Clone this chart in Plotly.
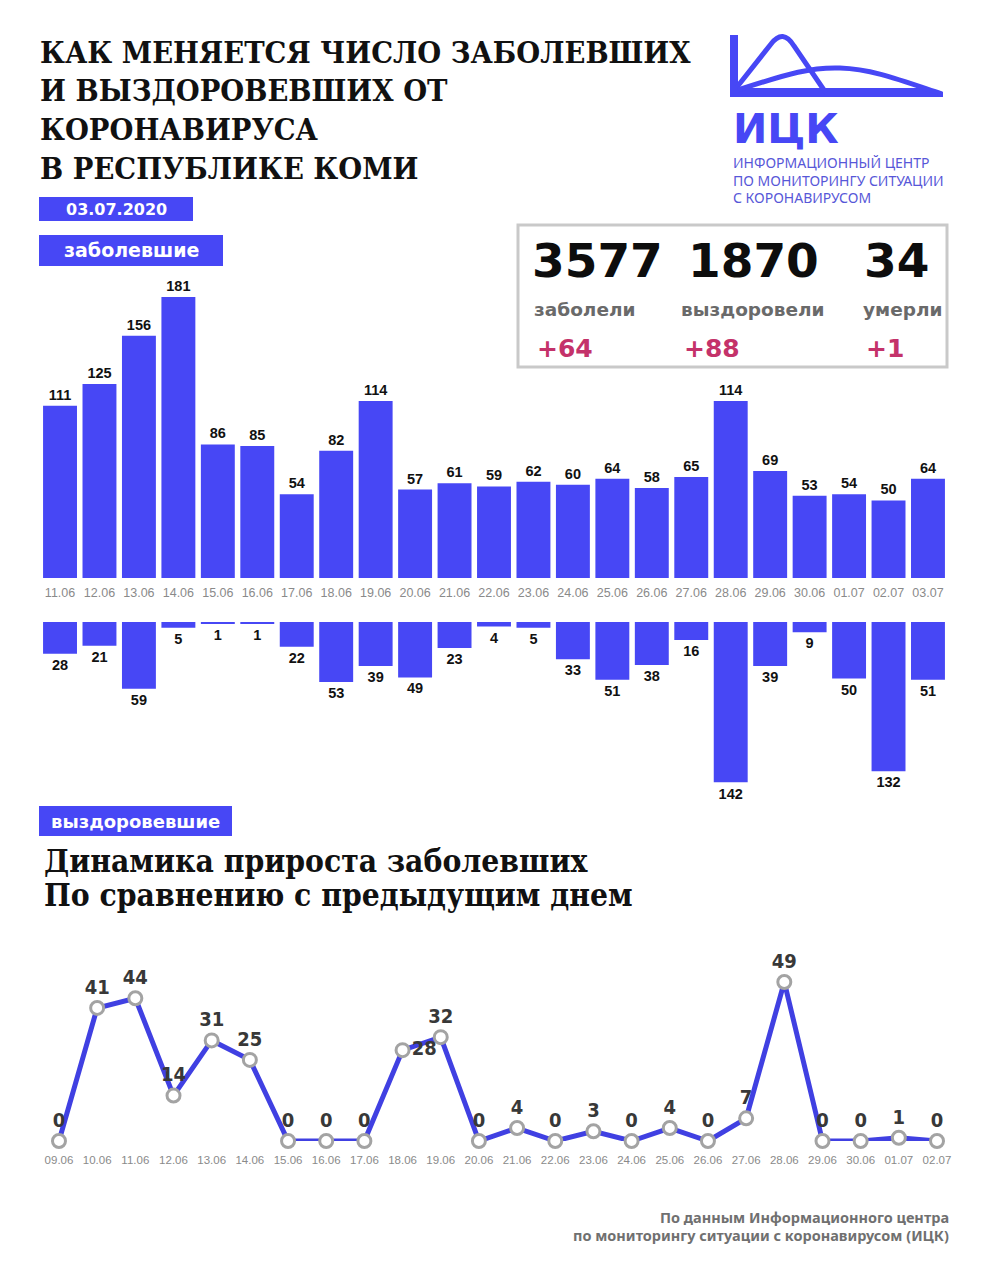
import plotly.graph_objects as go

W, H = 992, 1280


def px(x):
    return x / W


def py(y):
    return 1 - y / H


# ---------------- data ----------------
case_dates = ["11.06", "12.06", "13.06", "14.06", "15.06", "16.06", "17.06", "18.06",
              "19.06", "20.06", "21.06", "22.06", "23.06", "24.06", "25.06", "26.06",
              "27.06", "28.06", "29.06", "30.06", "01.07", "02.07", "03.07"]
new_cases = [111, 125, 156, 181, 86, 85, 54, 82, 114, 57, 61, 59, 62, 60, 64, 58,
             65, 114, 69, 53, 54, 50, 64]
new_recovered = [28, 21, 59, 5, 1, 1, 22, 53, 39, 49, 23, 4, 5, 33, 51, 38,
                 16, 142, 39, 9, 50, 132, 51]

growth_dates = ["09.06", "10.06", "11.06", "12.06", "13.06", "14.06", "15.06", "16.06",
                "17.06", "18.06", "19.06", "20.06", "21.06", "22.06", "23.06", "24.06",
                "25.06", "26.06", "27.06", "28.06", "29.06", "30.06", "01.07", "02.07"]
growth = [0, 41, 44, 14, 31, 25, 0, 0, 0, 28, 32, 0, 4, 0, 3, 0, 4, 0, 7, 49, 0, 0, 1, 0]

totals = ["3577", "1870", "34"]
total_labels = ["заболели", "выздоровели", "умерли"]
deltas = ["+64", "+88", "+1"]

title_lines = ["КАК МЕНЯЕТСЯ ЧИСЛО ЗАБОЛЕВШИХ", "И ВЫЗДОРОВЕВШИХ ОТ",
               "КОРОНАВИРУСА", "В РЕСПУБЛИКЕ КОМИ"]
subtitle_lines = ["Динамика прироста заболевших", "По сравнению с предыдущим днем"]
logo_lines = ["ИНФОРМАЦИОННЫЙ ЦЕНТР", "ПО МОНИТОРИНГУ СИТУАЦИИ", "С КОРОНАВИРУСОМ"]
footer_lines = ["По данным Информационного центра",
                "по мониторингу ситуации с коронавирусом (ИЦК)"]
date_label = "03.07.2020"
cases_badge = "заболевшие"
recovered_badge = "выздоровевшие"
logo_abbr = "ИЦК"

# ---------------- styles ----------------
BLUE = "#4747f5"
LINE_BLUE = "#4040e2"
GRAY_TICK = "#8a8a8a"
COND_SERIF = "DejaVu Serif Condensed, DejaVu Serif, Liberation Serif, serif"
SANS_B = "DejaVu Sans, Noto Sans, sans-serif"
ARIAL = "Liberation Sans, Arial, sans-serif"
NARROW = "Liberation Sans Narrow, DejaVu Sans Condensed, Liberation Sans, sans-serif"

fig = go.Figure()

# upper bars: new cases
fig.add_trace(go.Bar(
    x=case_dates, y=new_cases, text=[str(v) for v in new_cases],
    textposition="outside", cliponaxis=False, constraintext="none",
    textfont=dict(family=ARIAL, size=14.5, color="#111111", weight="bold"),
    marker=dict(color=BLUE, line=dict(width=0)),
    xaxis="x", yaxis="y", hoverinfo="skip",
))

# lower bars: recovered (drawn downward)
fig.add_trace(go.Bar(
    x=case_dates, y=[-v for v in new_recovered], text=[str(v) for v in new_recovered],
    textposition="outside", cliponaxis=False, constraintext="none",
    textfont=dict(family=ARIAL, size=14.5, color="#111111", weight="bold"),
    marker=dict(color=BLUE, line=dict(width=0)),
    xaxis="x2", yaxis="y2", hoverinfo="skip",
))

# growth line
positions = ["top center"] * len(growth)
positions[growth_dates.index("18.06")] = "middle right"
fig.add_trace(go.Scatter(
    x=growth_dates, y=growth, mode="lines+markers+text",
    text=[str(v) for v in growth], textposition=positions, cliponaxis=False,
    textfont=dict(family=NARROW, size=20, color="#383838", weight="bold"),
    line=dict(color=LINE_BLUE, width=5),
    marker=dict(size=13, color="white", line=dict(color="#a3a3a3", width=3)),
    xaxis="x3", yaxis="y3", hoverinfo="skip",
))

fig.update_layout(
    width=W, height=H, autosize=False,
    margin=dict(l=0, r=0, t=0, b=0),
    paper_bgcolor="white", plot_bgcolor="rgba(0,0,0,0)",
    showlegend=False, bargap=0.14,
    xaxis=dict(domain=[px(40.3), px(947.7)], anchor="y", type="category",
               range=[-0.5, 22.5], showgrid=False, zeroline=False, showline=False,
               ticks="outside", ticklen=3, tickcolor="rgba(0,0,0,0)",
               tickfont=dict(family=ARIAL, size=12.5, color=GRAY_TICK), fixedrange=True),
    yaxis=dict(domain=[py(578), py(297)], range=[0, 181], visible=False, fixedrange=True),
    xaxis2=dict(domain=[px(40.3), px(947.7)], anchor="y2", type="category",
                range=[-0.5, 22.5], visible=False, fixedrange=True),
    yaxis2=dict(domain=[py(782.5), py(622)], range=[-142, 0], visible=False, fixedrange=True),
    xaxis3=dict(domain=[px(39.9), px(956.1)], anchor="y3", type="category",
                range=[-0.5, 23.5], showgrid=False, zeroline=False, showline=False,
                ticks="outside", ticklen=8, tickcolor="rgba(0,0,0,0)",
                tickfont=dict(family=ARIAL, size=11.5, color=GRAY_TICK), fixedrange=True),
    yaxis3=dict(domain=[py(1141), py(982)], range=[0, 49], visible=False, fixedrange=True),
)

shapes = []
annotations = []


def rect(x0, y0, x1, y1, fill=None, line_color=None, line_width=0):
    shapes.append(dict(type="rect", xref="paper", yref="paper",
                       x0=px(x0), x1=px(x1), y0=py(y1), y1=py(y0),
                       fillcolor=fill if fill else "rgba(0,0,0,0)",
                       line=dict(color=line_color if line_color else "rgba(0,0,0,0)",
                                 width=line_width), layer="below"))


def text(x, y, s, size, color, family, xanchor="left", weight="normal"):
    annotations.append(dict(xref="paper", yref="paper", x=px(x), y=py(y), text=s,
                            showarrow=False, xanchor=xanchor, yanchor="middle",
                            font=dict(family=family, size=size, color=color, weight=weight)))


def path(cmds, color=None, width=0, fill=None):
    out = []
    for c in cmds:
        if isinstance(c, str):
            out.append(c)
        else:
            out.append(f"{px(c[0]):.5f},{py(c[1]):.5f}")
    shapes.append(dict(type="path", xref="paper", yref="paper", path=" ".join(out),
                       line=dict(color=color if color else "rgba(0,0,0,0)", width=width),
                       fillcolor=fill if fill else "rgba(0,0,0,0)"))


# title
for i, line in enumerate(title_lines):
    text(38, 52 + i * 38.5, line, 30.5, "#111111", COND_SERIF, weight="bold")

# date badge
rect(39, 197, 193, 221, fill=BLUE)
text(116, 209.5, date_label, 16, "white", SANS_B, xanchor="center", weight="bold")

# cases badge
rect(39, 235, 223, 266, fill=BLUE)
text(131, 250.5, cases_badge, 19, "white", SANS_B, xanchor="center", weight="bold")

# recovered badge
rect(39, 806, 232, 836, fill=BLUE)
text(135.5, 821, recovered_badge, 18, "white", SANS_B, xanchor="center", weight="bold")

# subtitle
text(42, 860, subtitle_lines[0], 31.5, "#111111", COND_SERIF, weight="bold")
text(42, 894, subtitle_lines[1], 31.5, "#111111", COND_SERIF, weight="bold")

# stats box
rect(518, 225, 947, 367, line_color="#c9c9c9", line_width=3)
col_x = [532, 679, 861]
col_c = [597, 753, 896]
for i in range(3):
    text(col_c[i], 261, totals[i], 47, "#0d0d0d", SANS_B, xanchor="center", weight="bold")
    text(col_x[i], 309, total_labels[i], 18.5, "#6a6a6a", SANS_B, weight="bold")
    text(col_x[i] + 3, 348, deltas[i], 25, "#c4326a", SANS_B, weight="bold")

# logo
rect(730, 35, 738, 97, fill=BLUE)
path(["M", (730, 88), "L", (924, 88), "L", (943, 92), "L", (943, 97), "L", (730, 97), "Z"],
     fill=BLUE)
path(["M", (737, 87), "L", (771, 44), "Q", (783, 28), (794, 46), "L", (826, 93)],
     color=BLUE, width=5)
path(["M", (738, 90), "C", (790, 73), (812, 67), (840, 68), "C", (872, 69), (900, 80), (942, 94)],
     color=BLUE, width=5)
text(731, 129, logo_abbr, 41, BLUE, SANS_B, weight="bold")
for i, line in enumerate(logo_lines):
    text(731, 163 + i * 17.5, line, 14, "#5757d8", "Noto Sans, DejaVu Sans, sans-serif")

# footer
for i, line in enumerate(footer_lines):
    text(951, 1216.5 + i * 18.5, line, 14.5, "#707070", "Noto Sans, Open Sans, sans-serif",
         xanchor="right", weight="bold")

fig.update_layout(shapes=shapes, annotations=annotations)

fig.write_html("out.html", post_script="document.body.style.margin='0';",
               config={"displayModeBar": False})
